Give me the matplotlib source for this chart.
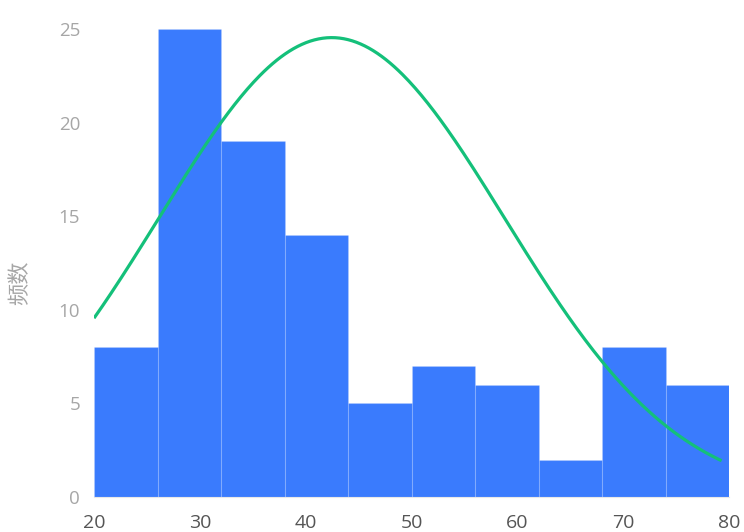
import numpy as np
import matplotlib
matplotlib.use("Agg")
import matplotlib.pyplot as plt

plt.rcParams['font.family'] = ['Open Sans', 'Noto Sans CJK SC', 'DejaVu Sans']

# Histogram bins (edges) and counts per bin
bin_edges = [20, 26, 32, 38, 44, 50, 56, 62, 68, 74, 80]
counts = [8, 25, 19, 14, 5, 7, 6, 2, 8, 6]

# Fitted normal curve parameters
curve_mu = 42.46
curve_sigma = 16.35
curve_peak = 24.54
curve_x_range = [20.0, 79.3]

x_ticks = [20, 30, 40, 50, 60, 70, 80]
y_ticks = [0, 5, 10, 15, 20, 25]
y_label = "频数"

W, H = 744, 532
fig = plt.figure(figsize=(W / 100, H / 100), dpi=100)
ax = fig.add_axes([94 / W, 1 - 497 / H, (729 - 94) / W, (497 - 29) / H])

lefts = bin_edges[:-1]
widths = np.diff(bin_edges)
ax.bar(lefts, counts, width=widths, align='edge', color='#3a7bfd',
       edgecolor=(1, 1, 1, 0.12), linewidth=0.8, zorder=2)

xs = np.linspace(curve_x_range[0], curve_x_range[1], 300)
ys = curve_peak * np.exp(-0.5 * ((xs - curve_mu) / curve_sigma) ** 2)
ax.plot(xs, ys, color='#14c07a', linewidth=2.3, zorder=3,
        solid_capstyle='butt')

ax.set_xlim(bin_edges[0], bin_edges[-1])
ax.set_ylim(0, 25)
ax.set_xticks(x_ticks)
ax.set_yticks(y_ticks)

for s in ['top', 'right', 'left']:
    ax.spines[s].set_visible(False)
ax.spines['bottom'].set_color('#e8e8e8')
ax.spines['bottom'].set_linewidth(0.8)

ax.tick_params(axis='y', length=0, pad=10, labelsize=13.5, labelcolor='#a6a6a6')
ax.tick_params(axis='x', length=0, pad=12, labelsize=14, labelcolor='#555555')

ax.set_ylabel(y_label, fontsize=16, color='#a6a6a6')
ax.yaxis.set_label_coords(-0.098, 0.457)

fig.savefig("out.png", dpi=100)
